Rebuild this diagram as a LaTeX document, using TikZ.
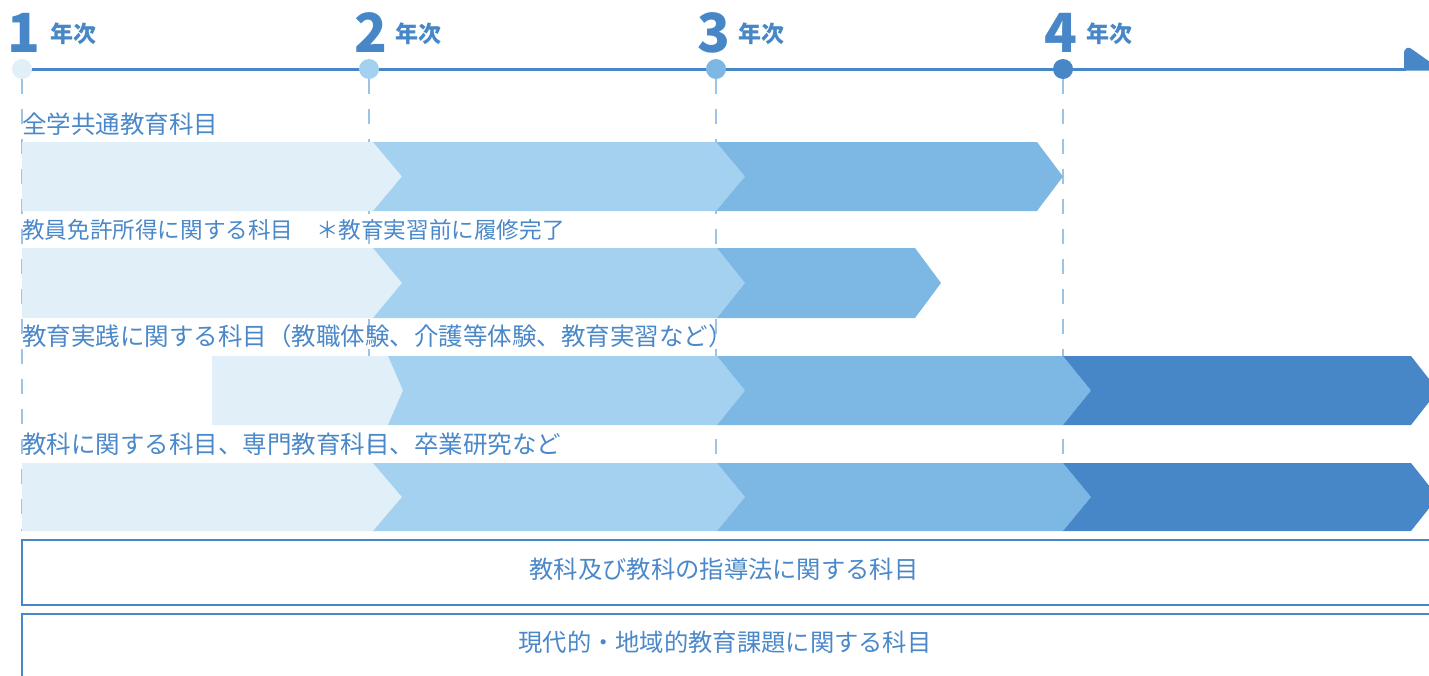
\documentclass[tikz,border=0pt]{standalone}
\usepackage{fontspec}
\setmainfont{Noto Sans CJK JP}
\definecolor{cA}{HTML}{E1EFF9}
\definecolor{cB}{HTML}{A4D1EF}
\definecolor{cC}{HTML}{7DB8E5}
\definecolor{cD}{HTML}{4787C7}
\definecolor{txt}{HTML}{4A88C9}
\definecolor{dashc}{HTML}{9DC3E6}
% segment: color, xL, left depth, xR, right depth, ytop, ybot
\newcommand\chevseg[7]{%
  \fill[#1] (#2,#6) -- (#4,#6) -- ({#4+#5},{(#6+#7)/2}) -- (#4,#7) -- (#2,#7) -- ({#2+#3},{(#6+#7)/2}) -- cycle;}
\tikzset{
  rowlabel/.style={anchor=base west, inner sep=0pt, text=txt, font=\fontsize{24.5}{28}\selectfont},
  boxtext/.style={anchor=center, inner sep=0pt, text=txt, font=\fontsize{24.3}{28}\selectfont},
  yearnum/.style={anchor=base, inner sep=0pt, text=cD, font=\fontsize{54}{60}\selectfont\bfseries},
  yeartxt/.style={anchor=base west, inner sep=0pt, text=cD, font=\fontsize{23}{26}\selectfont\bfseries},
  guide/.style={dashc, line width=1.8pt, dash pattern=on 15pt off 15pt},
  bandbox/.style={draw=cD, line width=2.5pt, fill=white}
}
\begin{document}
\begin{tikzpicture}[x=1pt,y=-1pt]
\useasboundingbox (0,0) rectangle (1429,675);
\clip (0,0) rectangle (1429,675);
% guides
\foreach \gx in {22,369,716,1063} \draw[guide] (\gx,79) -- (\gx,531);
% timeline
\draw[cD, line width=3pt] (22,69) -- (1406,69);
\fill[cD] (1404,70.5) -- (1404,54) .. controls (1404,47) and (1409,46) .. (1413,50) -- (1442,70.5) -- cycle;
\fill[cA] (22,69) circle (10);
\fill[cB] (369,69) circle (10);
\fill[cC] (716,69) circle (10);
\fill[cD] (1063,69) circle (10);
\coordinate (t1) at (22,69);
\coordinate (t2) at (369,69);
\coordinate (t3) at (716,69);
\coordinate (t4) at (1063,69);
% year labels
\node[yearnum] (n1) at (24,52) {1};
\node[yeartxt] (y1) at (50,42) {年次};
\node[yearnum] (n2) at (371,52) {2};
\node[yeartxt] (y2) at (395,42) {年次};
\node[yearnum] (n3) at (714,52) {3};
\node[yeartxt] (y3) at (738,42) {年次};
\node[yearnum] (n4) at (1061,52) {4};
\node[yeartxt] (y4) at (1086,42) {年次};
% row 1
\chevseg{cA}{22}{0}{373}{29}{142}{211}
\chevseg{cB}{373}{29}{716}{29}{142}{211}
\chevseg{cC}{716}{29}{1037}{26}{142}{211}
% row 2
\chevseg{cA}{22}{0}{373}{29}{248}{318}
\chevseg{cB}{373}{29}{717}{28}{248}{318}
\chevseg{cC}{717}{28}{915}{26}{248}{318}
% row 3
\chevseg{cA}{212}{0}{388}{15}{356}{425}
\chevseg{cB}{388}{15}{717}{28}{356}{425}
\chevseg{cC}{717}{28}{1063}{28}{356}{425}
\chevseg{cD}{1063}{28}{1411}{27}{356}{425}
% row 4
\chevseg{cA}{22}{0}{373}{29}{463}{531}
\chevseg{cB}{373}{29}{717}{28}{463}{531}
\chevseg{cC}{717}{28}{1063}{28}{463}{531}
\chevseg{cD}{1063}{28}{1411}{27}{463}{531}
% row labels
\node[rowlabel] (l1) at (22,133) {全学共通教育科目};
\node[rowlabel, font=\fontsize{22.6}{26}\selectfont] (l2) at (22,238) {教員免許所得に関する科目　＊教育実習前に履修完了};
\node[rowlabel] (l3) at (22,345) {教育実践に関する科目（教職体験、介護等体験、教育実習など）};
\node[rowlabel] (l4) at (22,453) {教科に関する科目、専門教育科目、卒業研究など};
% bottom boxes
\draw[bandbox] (22,540) rectangle (1450,605);
\node[boxtext] (b1) at (724,569) {教科及び教科の指導法に関する科目};
\draw[bandbox] (22,614) rectangle (1450,700);
\node[boxtext] (b2) at (725,642) {現代的・地域的教育課題に関する科目};
\end{tikzpicture}
\end{document}
